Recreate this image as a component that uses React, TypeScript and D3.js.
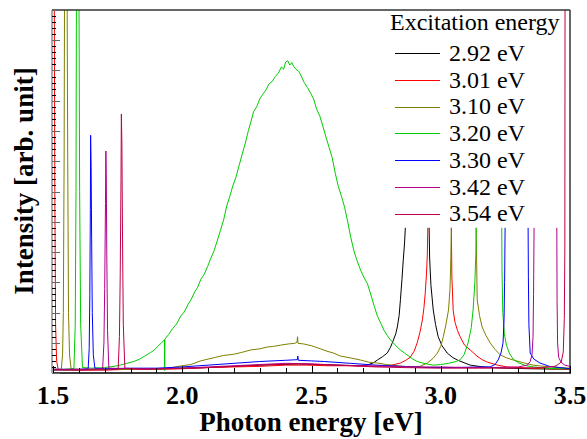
import React from "react";
import * as d3 from "d3";

type P = [number, number | null];

const xTickLabels = ["1.5", "2.0", "2.5", "3.0", "3.5"];
const xTickValues = [1.5, 2.0, 2.5, 3.0, 3.5];
const legendTitle = "Excitation energy";
const seriesNames = ["2.92 eV", "3.01 eV", "3.10 eV", "3.20 eV", "3.30 eV", "3.42 eV", "3.54 eV"];
const seriesColors = ["#000000", "#ff0000", "#7f7f00", "#00cc00", "#0000ff", "#b0008c", "#c0004a"];

const s292: P[] = [[1.500,0.5],[1.600,0.5],[1.700,0.6],[1.800,0.6],[1.900,0.7],[2.000,0.8],[2.100,0.9],[2.200,1.1],[2.300,1.3],[2.380,1.4],[2.450,1.5],[2.520,1.4],[2.600,1.3],[2.680,1.2],[2.716,1.3],[2.740,1.7],[2.755,2.15],[2.775,2.7],[2.793,3.3],[2.805,4.2],[2.817,5.45],[2.826,6.5],[2.832,7.6],[2.839,9.5],[2.844,12.1],[2.850,15.5],[2.855,18.7],[2.860,21.5],[2.863,24],[2.909,null],[2.955,24],[2.957,19],[2.962,14.5],[2.971,10.4],[2.980,8.0],[2.990,6.0],[3.005,4.5],[3.025,3.3],[3.045,2.6],[3.064,2.15],[3.090,1.7],[3.114,1.3],[3.164,1.0],[3.250,0.8],[3.350,0.7],[3.500,0.6]];

const s301: P[] = [[1.500,70],[1.5045,70],[1.507,30],[1.510,8],[1.514,2],[1.520,0.6],[1.600,0.5],[1.700,0.5],[1.800,0.6],[1.900,0.6],[2.000,0.7],[2.100,0.9],[2.200,1.0],[2.300,1.1],[2.400,1.3],[2.480,1.3],[2.560,1.2],[2.650,1.2],[2.750,1.1],[2.800,1.2],[2.844,1.65],[2.865,2.1],[2.882,2.6],[2.897,3.6],[2.909,5.0],[2.920,6.8],[2.929,8.8],[2.935,10.8],[2.940,13.2],[2.945,16.5],[2.948,19.5],[2.950,24],[2.996,null],[3.041,24],[3.043,16],[3.048,10.4],[3.055,8.4],[3.065,7.0],[3.075,6.0],[3.092,4.6],[3.114,3.8],[3.140,2.8],[3.160,2.2],[3.180,1.8],[3.220,1.3],[3.257,1.0],[3.350,0.8],[3.500,0.6]];

const s310: P[] = [[1.500,0.6],[1.532,0.6],[1.537,3],[1.540,10],[1.543,35],[1.545,70],[1.554,70],[1.557,35],[1.560,10],[1.564,3],[1.570,0.7],[1.600,0.6],[1.700,0.6],[1.800,0.6],[1.860,0.7],[1.917,0.6],[1.960,0.9],[2.000,1.2],[2.033,1.4],[2.071,2.0],[2.100,2.3],[2.130,2.6],[2.160,2.9],[2.199,3.1],[2.230,3.4],[2.264,3.8],[2.300,4.0],[2.330,4.3],[2.353,4.4],[2.380,4.6],[2.410,4.8],[2.435,4.9],[2.444,5.1],[2.446,6.0],[2.448,4.9],[2.470,4.8],[2.500,4.5],[2.535,4.0],[2.560,3.6],[2.585,3.3],[2.612,2.8],[2.650,2.5],[2.689,2.15],[2.720,1.8],[2.755,1.65],[2.790,1.4],[2.830,1.2],[2.880,1.0],[2.920,1.1],[2.948,1.65],[2.970,2.4],[2.987,3.3],[3.000,4.4],[3.010,6.0],[3.020,8.0],[3.030,10.4],[3.036,14],[3.039,19],[3.041,24],[3.089,null],[3.137,24],[3.139,18],[3.141,12.1],[3.150,9.5],[3.160,7.6],[3.175,6.2],[3.191,5.0],[3.210,3.9],[3.230,3.0],[3.255,2.5],[3.280,2.15],[3.320,1.7],[3.357,1.3],[3.420,1.0],[3.500,0.8]];

const s320: P[] = [[1.500,0.6],[1.540,0.6],[1.575,0.7],[1.581,0.8],[1.586,8],[1.589,30],[1.591,70],[1.600,70],[1.603,30],[1.607,8],[1.614,0.9],[1.650,0.8],[1.700,0.9],[1.736,1.1],[1.760,1.3],[1.785,1.6],[1.813,1.9],[1.835,2.3],[1.855,2.8],[1.878,3.4],[1.892,3.8],[1.905,4.4],[1.918,4.9],[1.931,5.5],[1.932,0.4],[1.933,5.6],[1.948,6.4],[1.962,7.3],[1.978,8.1],[1.994,9.4],[2.008,10.1],[2.022,11.3],[2.035,12.2],[2.048,13.4],[2.060,14.2],[2.072,15.5],[2.085,16.3],[2.098,17.6],[2.110,18.9],[2.122,20.1],[2.135,21.8],[2.148,23.6],[2.160,25.3],[2.172,27.6],[2.184,29.2],[2.196,31.0],[2.208,32.4],[2.220,34.3],[2.232,36.2],[2.244,38.0],[2.256,40.1],[2.266,41.6],[2.276,43.2],[2.288,44.0],[2.300,45.3],[2.312,46.1],[2.324,46.8],[2.336,47.8],[2.348,48.2],[2.360,49.0],[2.372,49.6],[2.384,50.6],[2.392,50.2],[2.400,51.4],[2.408,51.6],[2.416,50.9],[2.424,51.3],[2.432,50.6],[2.440,50.2],[2.450,49.9],[2.460,49.1],[2.472,48.0],[2.484,47.2],[2.496,46.3],[2.508,45.3],[2.520,43.6],[2.532,42.5],[2.544,40.8],[2.556,39.0],[2.568,37.3],[2.580,35.6],[2.592,33.0],[2.604,30.8],[2.616,29.2],[2.628,27.4],[2.640,25.0],[2.652,22.4],[2.664,20.2],[2.676,18.6],[2.690,17.0],[2.703,15.8],[2.716,14.8],[2.730,12.9],[2.743,11.0],[2.755,9.4],[2.768,8.2],[2.780,7.1],[2.793,6.2],[2.805,5.5],[2.818,4.9],[2.831,4.3],[2.844,3.8],[2.860,3.3],[2.876,2.8],[2.892,2.3],[2.909,1.9],[2.925,1.7],[2.945,1.5],[2.971,1.3],[3.000,1.4],[3.030,1.6],[3.060,1.9],[3.075,2.2],[3.090,3.0],[3.106,5.0],[3.118,7.5],[3.125,10.4],[3.132,15],[3.136,20],[3.137,24],[3.186,null],[3.236,24],[3.237,17],[3.240,10],[3.246,6.5],[3.254,4.6],[3.265,3.3],[3.280,2.3],[3.300,1.7],[3.330,1.2],[3.360,1.0],[3.400,0.8],[3.450,0.7],[3.500,0.7]];

const s330: P[] = [[1.500,0.6],[1.600,0.6],[1.636,0.7],[1.640,4],[1.6425,13],[1.6445,27],[1.6455,39.3],[1.6475,34],[1.6495,22],[1.652,10],[1.656,3],[1.662,0.8],[1.700,0.7],[1.800,0.8],[1.900,0.8],[2.000,1.0],[2.100,1.3],[2.200,1.6],[2.300,1.9],[2.400,2.1],[2.445,2.2],[2.447,2.8],[2.449,2.1],[2.500,2.0],[2.550,1.9],[2.650,1.6],[2.750,1.3],[2.850,1.1],[2.950,0.9],[3.050,0.9],[3.150,1.0],[3.191,1.0],[3.210,1.4],[3.222,2.15],[3.233,3.3],[3.241,5.0],[3.245,9],[3.247,15],[3.249,24],[3.294,null],[3.338,24],[3.339,16],[3.341,8],[3.346,3.3],[3.360,2.3],[3.384,1.65],[3.420,1.1],[3.500,0.7]];

const s342: P[] = [[1.500,0.6],[1.600,0.6],[1.692,0.7],[1.697,5],[1.700,14],[1.703,28],[1.7045,36.7],[1.706,33],[1.708,20],[1.711,7],[1.716,0.8],[1.800,0.7],[1.900,0.7],[2.000,0.8],[2.100,1.0],[2.200,1.2],[2.300,1.4],[2.400,1.6],[2.500,1.5],[2.600,1.3],[2.700,1.2],[2.800,1.1],[2.900,1.0],[3.000,1.0],[3.100,0.9],[3.200,0.9],[3.300,1.0],[3.335,1.3],[3.346,1.9],[3.353,3.0],[3.357,6],[3.359,13],[3.361,24],[3.405,null],[3.449,24],[3.450,12],[3.452,5],[3.456,2.6],[3.465,1.8],[3.480,1.3],[3.500,1.1]];

const s354: P[] = [[1.500,0.5],[1.600,0.5],[1.700,0.5],[1.752,0.6],[1.757,6],[1.760,16],[1.763,32],[1.7645,42.8],[1.7665,38],[1.769,22],[1.772,8],[1.778,0.8],[1.850,0.6],[1.950,0.7],[2.050,0.8],[2.150,1.0],[2.250,1.2],[2.350,1.4],[2.450,1.5],[2.550,1.4],[2.650,1.2],[2.750,1.0],[2.850,0.9],[3.000,0.8],[3.150,0.8],[3.300,0.8],[3.400,0.9],[3.440,1.1],[3.450,1.3],[3.466,1.8],[3.474,3.5],[3.478,9],[3.480,20],[3.481,70],[3.500,70]];

const allSeries = [s292, s301, s310, s320, s330, s342, s354];

const W = 587, H = 439;
const L = 53, R = 570, T = 10, B = 373;
const SERIF = "Liberation Serif";

export default function App() {
  const x = d3.scaleLinear().domain([1.5, 3.5]).range([L, R]);
  const y = d3.scaleLinear().domain([0, 60]).range([B, T]);
  const line = d3
    .line<P>()
    .defined((d) => d[1] !== null)
    .x((d) => x(d[0]))
    .y((d) => y(d[1] as number));

  const xMinor = d3.range(15, 36).map((v) => v / 10);
  const yMinor = d3.range(0, 61);

  return (
    <div style={{ position: "absolute", left: 0, top: 0 }}>
      <svg width={W} height={H} style={{ display: "block", background: "#fff" }}>
        <defs>
          <clipPath id="plotclip">
            <rect x={L} y={T} width={R - L} height={B - T} />
          </clipPath>
        </defs>
        <rect x={0} y={0} width={W} height={H} fill="#fff" />
        <g clipPath="url(#plotclip)">
          {allSeries.map((s, i) => (
            <path key={i} d={line(s) || ""} fill="none" stroke={seriesColors[i]} strokeWidth={1} />
          ))}
        </g>
        <line x1={L - 1} x2={R} y1={T} y2={T} stroke="#333" strokeWidth={1.5} />
        <line x1={R} x2={R} y1={T} y2={B} stroke="#333" strokeWidth={1.5} />
        <line x1={L - 1} x2={R + 1} y1={B} y2={B} stroke="#000" strokeWidth={1.5} />
        <line x1={L - 1} x2={L - 1} y1={T} y2={B} stroke="#aaa" strokeWidth={2} />
        {xMinor.map((v, i) => (
          <line key={i} x1={Math.round(x(v)) + 0.5} x2={Math.round(x(v)) + 0.5} y1={B} y2={B - (i % 5 === 0 ? 7 : 5)} stroke="#000" strokeWidth={1} />
        ))}
        {yMinor.map((v) => (
          <line key={v} x1={L - 1} x2={L - 1 + (v % 5 === 0 ? 8 : 4)} y1={Math.round(y(v)) + 0.5} y2={Math.round(y(v)) + 0.5} stroke={v % 5 === 0 ? "#666" : "#000"} strokeWidth={1} />
        ))}
        {xTickValues.map((v, i) => (
          <text key={i} x={x(v)} y={404} textAnchor="middle" fontFamily={SERIF} fontWeight="bold" fontSize={26} fill="#000">
            {xTickLabels[i]}
          </text>
        ))}
        <text x={311} y={431} textAnchor="middle" fontFamily={SERIF} fontWeight="bold" fontSize={27} fill="#000">
          Photon energy [eV]
        </text>
        <text transform="translate(33,181) rotate(-90)" textAnchor="middle" fontFamily={SERIF} fontWeight="bold" fontSize={27} fill="#000">
          Intensity [arb. unit]
        </text>
        <text x={390} y={30} fontFamily={SERIF} fontSize={24} fill="#000">
          {legendTitle}
        </text>
        {seriesNames.map((n, i) => {
          const by = 61 + i * 26.7;
          const ly = Math.round(by - 7.7) + 0.5;
          return (
            <g key={n}>
              <line x1={395} x2={440} y1={ly} y2={ly} stroke={seriesColors[i]} strokeWidth={1} />
              <text x={449} y={by} fontFamily={SERIF} fontSize={24} fill="#000">
                {n}
              </text>
            </g>
          );
        })}
      </svg>
    </div>
  );
}
